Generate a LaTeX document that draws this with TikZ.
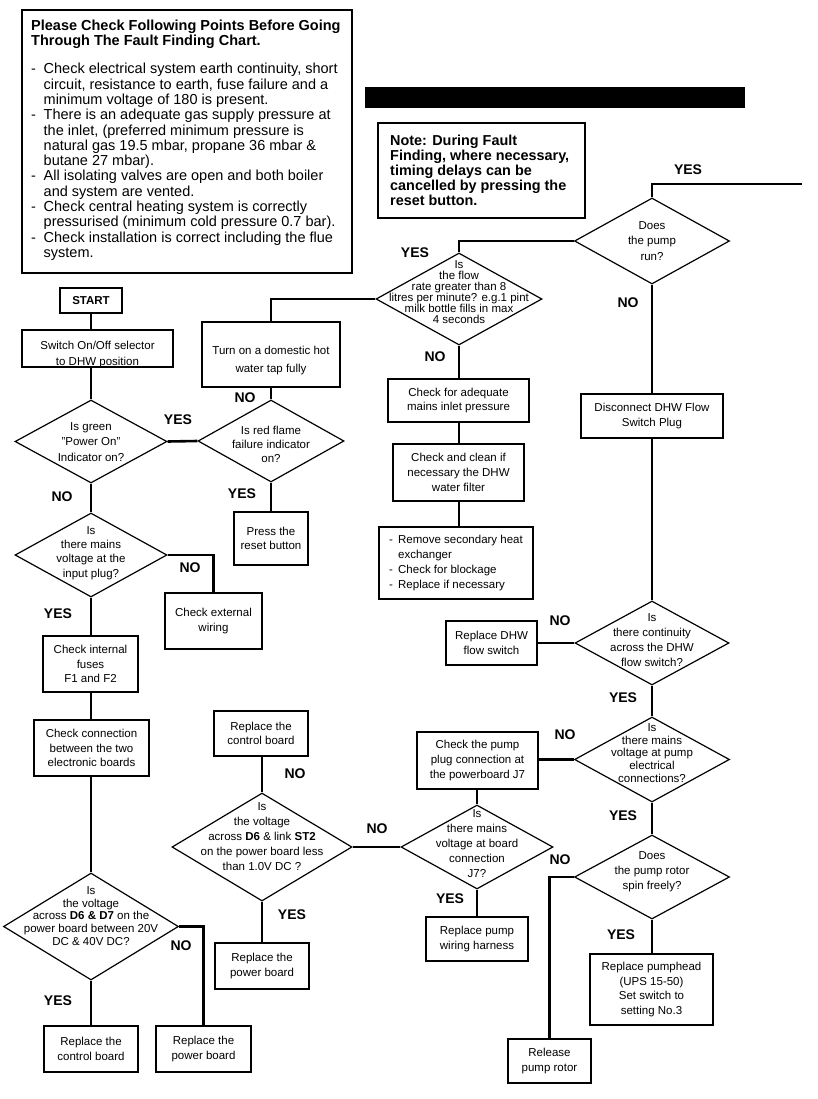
\documentclass[tikz,border=0pt]{standalone}
\usepackage{fontspec}
\setmainfont{Liberation Sans}
\usetikzlibrary{shapes.geometric}
\newcommand{\mybox}[6][]{\node[box,#1,minimum width={#4-#2},minimum height={#5-#3}] (#6) at ({(#2+#4)/2},{(#3+#5)/2})}
\newcommand{\fs}[2]{\fontsize{#1}{#2}\selectfont}
\newcommand{\bul}{\makebox[12.5pt][l]{-}}
\newcommand{\ind}{\hspace*{12.5pt}}
\begin{document}
\begin{tikzpicture}[x=1pt,y=-1pt,
  box/.style={draw,line width=1.3pt,inner sep=0pt,align=center,font=\fs{11.5}{14.7}},
  dia/.style={draw,diamond,line width=1.2pt,inner sep=0pt},
  dtxt/.style={inner sep=0pt,align=center,font=\fs{11.5}{#1}},
  lab/.style={inner sep=0pt,font=\fs{14}{16}\bfseries},
  conn/.style={line width=2.6pt},
  frame/.style={draw,line width=2.8pt,inner sep=0pt}]
\fill[white] (0,0) rectangle (818,1099);
\useasboundingbox (0,0) rectangle (818,1099);

% ---- header boxes ----
\mybox[frame]{22}{10}{352}{273}{chkbox} {};
\node[anchor=north west,inner sep=0pt,align=left,font=\fs{14.5}{15.3}] (chktxt) at (31,19.5)
 {\textbf{Please Check Following Points Before Going}\\
  \textbf{Through The Fault Finding Chart.}\\[13pt]
  \bul Check electrical system earth continuity, short\\
  \ind circuit, resistance to earth, fuse failure and a\\
  \ind minimum voltage of 180 is present.\\
  \bul There is an adequate gas supply pressure at\\
  \ind the inlet, (preferred minimum pressure is\\
  \ind natural gas 19.5 mbar, propane 36 mbar \&\\
  \ind butane 27 mbar).\\
  \bul All isolating valves are open and both boiler\\
  \ind and system are vented.\\
  \bul Check central heating system is correctly\\
  \ind pressurised (minimum cold pressure 0.7 bar).\\
  \bul Check installation is correct including the flue\\
  \ind system.};
\fill (365,87) rectangle (745,108);
\mybox[frame]{378}{123}{585}{218}{notebox} {};
\node[anchor=north west,inner sep=0pt,align=left,font=\fs{14.4}{15.2}\bfseries] (notetxt) at (390,134.5)
 {Note: During Fault\\Finding, where necessary,\\timing delays can be\\cancelled by pressing the\\reset button.};

% ---- boxes ----
\mybox{60}{288}{122}{313}{start} {\textbf{START}};
\mybox{22}{330}{173}{367}{switch} {};
\node[dtxt=16] (switchT) at (97.5,354.7) {Switch On/Off selector\\to DHW position};
\mybox{202}{322}{340}{387}{tap} {};
\node[dtxt=18.3] (tapT) at (271,360.8) {Turn on a domestic hot\\water tap fully};
\mybox{234}{512}{308}{565}{press} {Press the\\reset button};
\mybox{165}{593}{262}{649}{ext} {Check external\\wiring};
\mybox{43}{636}{138}{692}{fuses} {Check internal\\fuses\\F1 and F2};
\mybox{34}{720}{149}{776}{conn} {Check connection\\between the two\\electronic boards};
\mybox{44}{1026}{138}{1072}{ctrlA} {Replace the\\control board};
\mybox{156}{1026}{251}{1072}{pwrA} {Replace the\\power board};
\mybox{214}{711}{308}{756}{ctrlB} {Replace the\\control board};
\mybox{215}{943}{309}{989}{pwrB} {Replace the\\power board};
\mybox{417}{732}{538}{789}{plug} {Check the pump\\plug connection at\\the powerboard J7};
\mybox{426}{917}{528}{961}{harness} {Replace pump\\wiring harness};
\mybox{508}{1039}{591}{1083}{release} {Release\\pump rotor};
\mybox{590}{954}{713}{1025}{head} {Replace pumphead\\(UPS 15-50)\\Set switch to\\setting No.3};
\mybox{446}{621}{537}{665}{dhw} {Replace DHW\\flow switch};
\mybox{581}{394}{723}{438}{disc} {Disconnect DHW Flow\\Switch Plug};
\mybox{388}{379}{529}{422}{adq} {Check for adequate\\mains inlet pressure};
\mybox{393}{444}{524}{501}{clean} {Check and clean if\\necessary the DHW\\water filter};
\mybox[align=left]{379}{527}{533}{599}{remove}
 {\makebox[9pt][l]{-}Remove secondary heat\\\hspace*{9pt}exchanger\\\makebox[9pt][l]{-}Check for blockage\\\makebox[9pt][l]{-}Replace if necessary};

% ---- diamonds ----
\node[dia,minimum width=155,minimum height=86] (pump) at (652,241) {};
\node[dtxt=15.3] (pumpT) at (652,241) {Does\\the pump\\run?};
\node[dia,minimum width=166,minimum height=92] (flow) at (459,299) {};
\node[dtxt=10.9] (flowT) at (459,292) {Is\\the flow\\rate greater than 8\\litres per minute? e.g.1 pint\\milk bottle fills in max\\4 seconds};
\node[dia,minimum width=152,minimum height=83] (green) at (91,441.5) {};
\node[dtxt=15.5] (greenT) at (91,442) {Is green\\"Power On"\\Indicator on?};
\node[dia,minimum width=146,minimum height=82] (red) at (271,441) {};
\node[dtxt=14] (redT) at (271,444) {Is red flame\\failure indicator\\on?};
\node[dia,minimum width=152,minimum height=84] (mains) at (91,555) {};
\node[dtxt=14.2] (mainsT) at (91,553) {Is\\there mains\\voltage at the\\input plug?};
\node[dia,minimum width=175,minimum height=107] (d67) at (91,926.5) {};
\node[dtxt=12.9] (d67T) at (91,916) {Is\\the voltage\\across \textbf{D6 \& D7} on the\\power board between 20V\\DC \& 40V DC?};
\node[dia,minimum width=180,minimum height=108] (st2) at (262,847) {};
\node[dtxt=15] (st2T) at (262,837) {Is\\the voltage\\across \textbf{D6} \& link \textbf{ST2}\\on the power board less\\than 1.0V DC ?};
\node[dia,minimum width=152,minimum height=84] (j7) at (477,847) {};
\node[dtxt=15] (j7T) at (477,843.5) {Is\\there mains\\voltage at board\\connection\\J7?};
\node[dia,minimum width=155,minimum height=85] (mpump) at (652,759.5) {};
\node[dtxt=12.75] (mpumpT) at (652,753) {Is\\there mains\\voltage at pump\\electrical\\connections?};
\node[dia,minimum width=155,minimum height=84] (rotor) at (652,877) {};
\node[dtxt=15] (rotorT) at (652,872) {Does\\the pump rotor\\spin freely?};
\node[dia,minimum width=154,minimum height=84] (cont) at (652,643) {};
\node[dtxt=15] (contT) at (652,640) {Is\\there continuity\\across the DHW\\flow switch?};

\coordinate (yesend) at (802,184);

% ---- connectors ----
\draw[conn] (start.south) -- (start.south |- switch.north);
\draw[conn] (green.north) -- (green.north |- switch.south);
\draw[conn] (green.east) -- (red.west);
\draw[conn] (green.south) -- (mains.north);
\draw[conn] (mains.east) -| (ext.north);
\draw[conn] (mains.south) -- (mains.south |- fuses.north);
\draw[conn] (mains.south |- fuses.south) -- (mains.south |- conn.north);
\draw[conn] (d67.north) -- (d67.north |- conn.south);
\draw[conn] (d67.east) -| (pwrA.north);
\draw[conn] (d67.south) -- (d67.south |- ctrlA.north);
\draw[conn] (red.north) -- (red.north |- tap.south);
\draw[conn] (red.south) -- (red.south |- press.north);
\draw[conn] (tap.north) |- (flow.west);
\draw[conn] (flow.north) |- (pump.west);
\draw[conn] (pump.north) |- (yesend);
\draw[conn] (pump.south) -- (pump.south |- disc.north);
\draw[conn] (cont.north) -- (cont.north |- disc.south);
\draw[conn] (cont.west) -- (dhw.east |- cont.west);
\draw[conn] (cont.south) -- (mpump.north);
\draw[conn] (mpump.west) -- (plug.east |- mpump.west);
\draw[conn] (mpump.south) -- (rotor.north);
\draw[conn] (rotor.west) -| (release.north);
\draw[conn] (rotor.south) -- (rotor.south |- head.north);
\draw[conn] (j7.north) -- (j7.north |- plug.south);
\draw[conn] (j7.west) -- (st2.east);
\draw[conn] (j7.south) -- (j7.south |- harness.north);
\draw[conn] (st2.north) -- (st2.north |- ctrlB.south);
\draw[conn] (st2.south) -- (st2.south |- pwrB.north);
\draw[conn] (flow.south) -- (flow.south |- adq.north);
\draw[conn] (flow.south |- adq.south) -- (flow.south |- clean.north);
\draw[conn] (flow.south |- clean.south) -- (flow.south |- remove.north);

% ---- labels ----
\node[lab] (l1) at (688,170) {YES};
\node[lab] (l2) at (415,253) {YES};
\node[lab] (l3) at (628,303) {NO};
\node[lab] (l4) at (435,357) {NO};
\node[lab] (l5) at (178,420) {YES};
\node[lab] (l6) at (245,398) {NO};
\node[lab] (l7) at (62,497) {NO};
\node[lab] (l8) at (242,494) {YES};
\node[lab] (l9) at (190,568) {NO};
\node[lab] (l10) at (58,614) {YES};
\node[lab] (l11) at (181,946) {NO};
\node[lab] (l12) at (58,1001) {YES};
\node[lab] (l13) at (295,774) {NO};
\node[lab] (l14) at (292,915) {YES};
\node[lab] (l15) at (377,829) {NO};
\node[lab] (l16) at (565,735) {NO};
\node[lab] (l17) at (450,899) {YES};
\node[lab] (l18) at (560,621) {NO};
\node[lab] (l19) at (623,698) {YES};
\node[lab] (l20) at (623,816) {YES};
\node[lab] (l21) at (560,860) {NO};
\node[lab] (l22) at (621,935) {YES};
\end{tikzpicture}
\end{document}
